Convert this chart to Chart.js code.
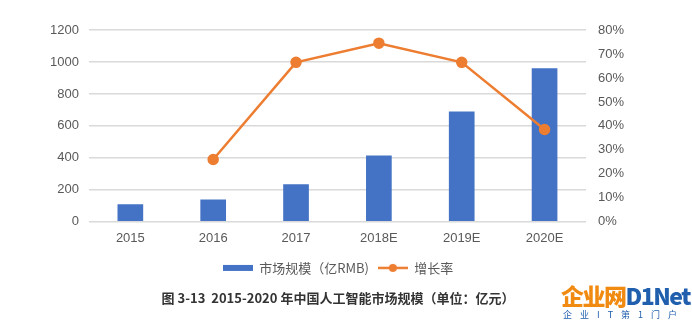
<!DOCTYPE html>
<html>
<head>
<meta charset="utf-8">
<script src="https://cdn.jsdelivr.net/npm/chart.js@4"></script>
<style>
  body { margin: 0; background: #fff; }
  #wrap { position: relative; width: 692px; height: 326px; overflow: hidden; }
  #mark { position: absolute; left: 561px; top: 284px; font-family: "Noto Sans CJK SC", sans-serif; line-height: 1; white-space: nowrap; }
  #mark .big { font-size: 23px; font-weight: 900; letter-spacing: -1.5px; }
  #mark .small { font-size: 9px; color: #1f5fae; letter-spacing: 8px; margin-top: 3px; padding-left: 2px; }
</style>
</head>
<body>
<div id="wrap">
  <canvas id="c" width="692" height="326"></canvas>
  <div id="mark"><div class="big"><span style="color:#f08a10">企业网</span><span style="color:#1f5fae">D1Net</span></div><div class="small">企业IT第1门户</div></div>
</div>
<script>
// chart data
let years = ['2015', '2016', '2017', '2018E', '2019E', '2020E'];
let marketSize = [110, 140, 235, 415, 690, 960];
let growthRate = [null, 26, 66.5, 74.5, 66.5, 38.5];

let grey = '#595959';
let blue = '#4472C4';
let orange = '#ED7D31';
let tickFont = { family: 'Arial, "Liberation Sans", sans-serif', size: 13 };

// little legend symbols
function legendIcon(kind, color) {
    let c = document.createElement('canvas');
    c.width = 30; c.height = 12;
    let g = c.getContext('2d');
    g.fillStyle = color;
    g.strokeStyle = color;
    if (kind === 'bar') {
        g.fillRect(0, 3, 30, 6);
    } else {
        g.lineWidth = 2.5;
        g.beginPath(); g.moveTo(0, 6); g.lineTo(30, 6); g.stroke();
        g.beginPath(); g.arc(15, 6, 4, 0, Math.PI * 2); g.fill();
    }
    return c;
}
let icons = [legendIcon('line', orange), legendIcon('bar', blue)];

let ctx = document.querySelector('#c').getContext('2d');

let chart = new Chart(ctx, {
    type: 'bar',
    data: {
        labels: years,
        datasets: [{
            type: 'line',
            label: '增长率',
            data: growthRate,
            yAxisID: 'y2',
            borderColor: orange,
            backgroundColor: orange,
            borderWidth: 2.5,
            pointRadius: 4.5,
            pointHoverRadius: 4.5,
            tension: 0,
            order: 0
        }, {
            label: '市场规模（亿RMB)',
            data: marketSize,
            yAxisID: 'y',
            backgroundColor: blue,
            categoryPercentage: 0.62,
            barPercentage: 0.5,
            order: 1
        }]
    },
    options: {
        responsive: false,
        animation: false,
        layout: { padding: { left: 40, right: 56, top: 30, bottom: 0 } },
        plugins: {
            legend: {
                position: 'bottom',
                reverse: true,
                labels: {
                    color: grey,
                    font: { family: '"Noto Sans CJK SC", sans-serif', size: 13 },
                    usePointStyle: true,
                    pointStyleWidth: 30,
                    boxHeight: 12,
                    padding: 9,
                    generateLabels: ch => {
                        let items = Chart.defaults.plugins.legend.labels.generateLabels(ch);
                        items.forEach(it => { it.pointStyle = icons[it.datasetIndex]; });
                        return items;
                    }
                }
            },
            title: {
                display: true,
                position: 'bottom',
                text: '图 3-13  2015-2020 年中国人工智能市场规模（单位：亿元）',
                color: '#333',
                font: { family: '"Noto Sans CJK SC", sans-serif', size: 13, weight: 'bold' },
                padding: { top: 6, bottom: 20 }
            },
            tooltip: { enabled: false }
        },
        scales: {
            x: {
                grid: { display: false },
                border: { display: false },
                ticks: { color: grey, font: tickFont, padding: 1 },
                afterFit: s => { s.height += 5; }
            },
            y: {
                min: 0, max: 1200,
                ticks: { stepSize: 200, color: grey, font: tickFont, padding: 10, callback: v => String(v) },
                grid: { color: '#d9d9d9', lineWidth: 1.5, drawTicks: false },
                border: { display: false }
            },
            y2: {
                position: 'right',
                min: 0, max: 80,
                ticks: { stepSize: 10, color: grey, font: tickFont, padding: 12, callback: v => v + '%' },
                grid: { display: false, drawTicks: false },
                border: { display: false }
            }
        }
    }
});
</script>
</body>
</html>
